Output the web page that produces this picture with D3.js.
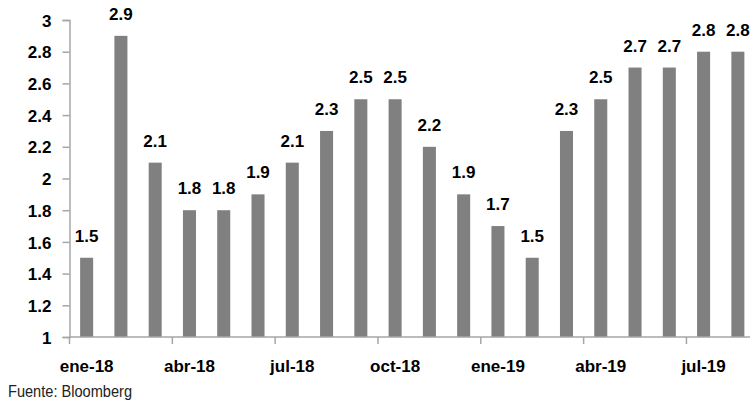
<!DOCTYPE html>
<html><head><meta charset="utf-8">
<script src="https://cdn.jsdelivr.net/npm/d3@7"></script>
<style>
body{margin:0;background:#fff;}
svg{display:block;font-family:"Liberation Sans",Arial,sans-serif;}
</style></head>
<body><svg id="c" width="750" height="400"></svg>
<script>
const months = ["ene-18","feb-18","mar-18","abr-18","may-18","jun-18","jul-18","ago-18","sep-18","oct-18","nov-18","dic-18","ene-19","feb-19","mar-19","abr-19","may-19","jun-19","jul-19","ago-19"];
const values = [1.5,2.9,2.1,1.8,1.8,1.9,2.1,2.3,2.5,2.5,2.2,1.9,1.7,1.5,2.3,2.5,2.7,2.7,2.8,2.8];
const yTicks = [1,1.2,1.4,1.6,1.8,2,2.2,2.4,2.6,2.8,3];
const xLabelMonths = ["ene-18","abr-18","jul-18","oct-18","ene-19","abr-19","jul-19"];
const source = "Fuente: Bloomberg";

const svg = d3.select("#c");
const mLeft = 69.5, mRight = 755, mTop = 20, mBottom = 337;
const axisColor = "#a6a6a6";

const x = d3.scaleBand().domain(months).range([mLeft, mRight]).paddingInner(0.62).paddingOuter(0.31);
const y = d3.scaleLinear().domain([1,3]).range([mBottom, mTop]);

// bars
svg.append("g").selectAll("rect").data(values).join("rect")
  .attr("x", (d,i)=>x(months[i]))
  .attr("width", x.bandwidth())
  .attr("y", d=>y(d))
  .attr("height", d=>mBottom - y(d))
  .attr("fill", "#808080");

// y axis
const ya = svg.append("g").attr("transform", `translate(${mLeft},0)`)
  .call(d3.axisLeft(y).tickValues(yTicks).tickSize(7).tickPadding(11).tickFormat(d=>String(+d.toFixed(1))));
ya.select(".domain").attr("stroke", axisColor).attr("stroke-width", 1.5);
ya.selectAll(".tick line").attr("stroke", axisColor).attr("stroke-width", 1.5);
ya.selectAll(".tick text").attr("fill","#000").style("font-size","17px").style("font-weight","bold")
  .attr("dy","0.36em");

// x axis line
svg.append("line").attr("x1", mLeft).attr("x2", 750).attr("y1", mBottom).attr("y2", mBottom)
  .attr("stroke", axisColor).attr("stroke-width", 1.5);
// x ticks at band boundaries every 3 months
const step = x.step();
const tickIdx = months.map((m,i)=>i).filter(i=>i%3===0);
svg.append("g").selectAll("line").data(tickIdx).join("line")
  .attr("x1", i=>mLeft + i*step).attr("x2", i=>mLeft + i*step)
  .attr("y1", mBottom).attr("y2", mBottom+7)
  .attr("stroke", axisColor).attr("stroke-width", 1.5);
svg.append("g").selectAll("text").data(xLabelMonths).join("text")
  .attr("x", m=>x(m)+x.bandwidth()/2).attr("y", 372)
  .attr("text-anchor","middle").style("font-size","17px").style("font-weight","bold")
  .text(m=>m);

// data labels
svg.append("g").selectAll("text").data(values).join("text")
  .attr("x", (d,i)=>x(months[i])+x.bandwidth()/2)
  .attr("y", d=>y(d)-16)
  .attr("text-anchor","middle").style("font-size","17px").style("font-weight","bold")
  .text(d=>d.toFixed(1));

// source
svg.append("text").attr("x", 8).attr("y", 397).style("font-size","16px").attr("fill","#222")
  .attr("textLength", 124).attr("lengthAdjust","spacingAndGlyphs")
  .text(source);
</script></body></html>
